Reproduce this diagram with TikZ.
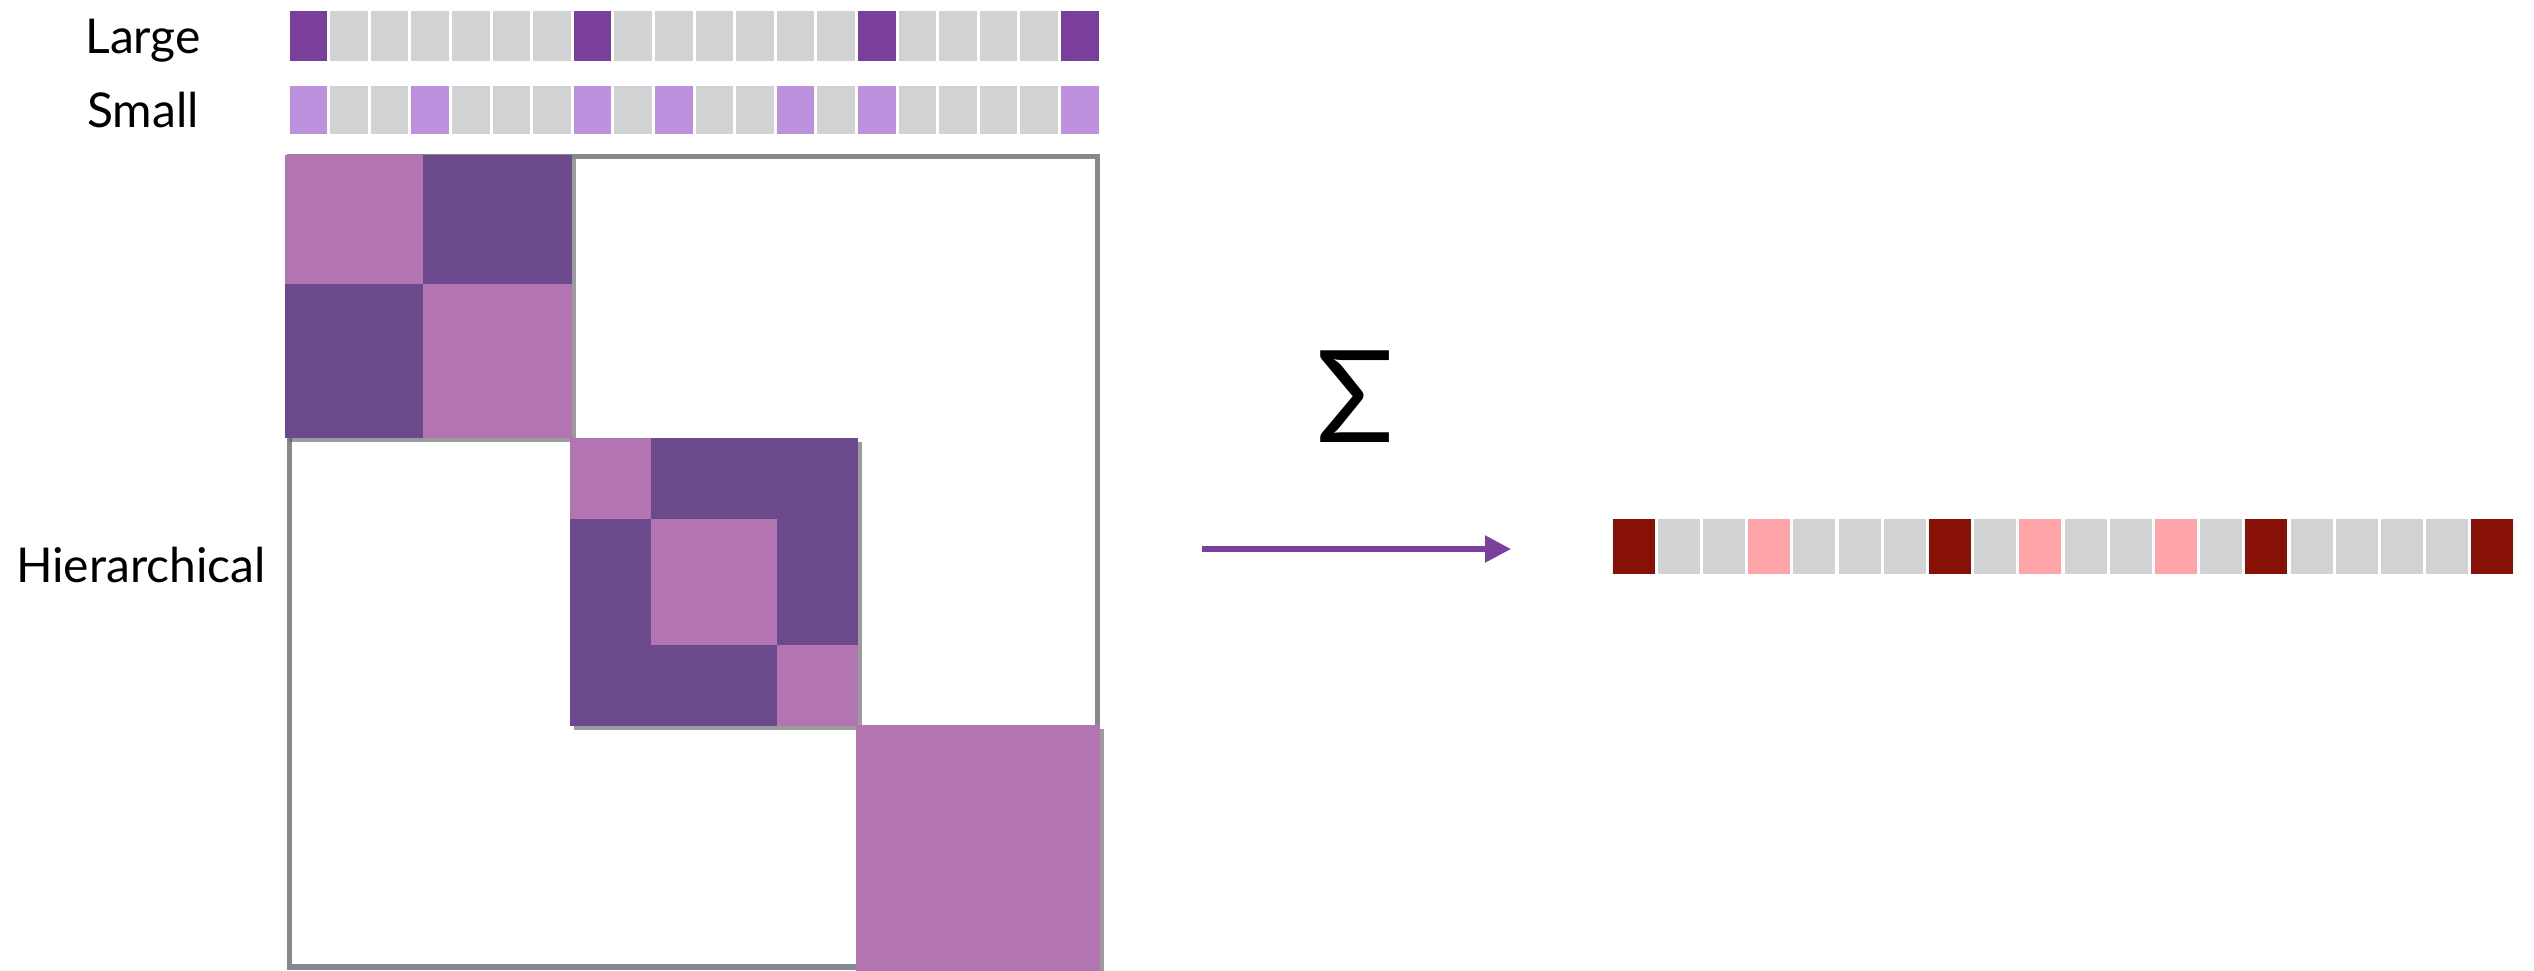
\documentclass[tikz,border=0pt]{standalone}
\usepackage{fontspec}
\setmainfont{Lato}
\usepackage{xcolor}
\usepackage{tikz}
\usetikzlibrary{arrows.meta, positioning, shadows}
\definecolor{lg}{HTML}{7A3E9B}
\definecolor{sm}{HTML}{BD91DD}
\definecolor{cg}{HTML}{D1D2D4}
\definecolor{dr}{HTML}{871106}
\definecolor{pk}{HTML}{FFA4A9}
\definecolor{blklight}{HTML}{B375B2}
\definecolor{blkdark}{HTML}{6C488C}
\definecolor{framegray}{HTML}{85888C}
\definecolor{arrowpurple}{HTML}{7B409E}
\tikzset{
  cel/.style={rectangle, draw=none, inner sep=0pt, minimum width=18.8pt,
              minimum height=25pt},
  celsum/.style={cel, minimum width=21pt, minimum height=27.5pt},
  lbl/.style={font=\fontsize{24}{28}\selectfont, anchor=base},
  frame/.style={draw=framegray, line width=2.75pt},
  blk/.style={fill=blkdark, drop shadow={shadow xshift=2pt,
              shadow yshift=-2pt, opacity=0.6, fill=black!65}},
  arc/.style={-{Triangle[length=13pt, width=13pt]}, line width=2.7pt,
              draw=arrowpurple}
}
\begin{document}
\begin{tikzpicture}[x=0.5pt, y=-0.5pt]
  \useasboundingbox (0,0) rectangle (2534,970);
  % labels
  \node[lbl] (large) at (143,53) {Large};
  \node[lbl] (small) at (143,127) {Small};
  \node[lbl] (hier) at (141,582) {Hierarchical};
  % the two bars
  \foreach \c [count=\i from 0] in {lg,cg,cg,cg,cg,cg,cg,lg,cg,cg,cg,cg,cg,cg,lg,cg,cg,cg,cg,lg}
    \node[cel, fill=\c] (large\i) at ({288+40.6*(\i+0.5)},36) {};
  \foreach \c [count=\i from 0] in {sm,cg,cg,sm,cg,cg,cg,sm,cg,sm,cg,cg,sm,cg,sm,cg,cg,cg,cg,sm}
    \node[cel, fill=\c, minimum height=24pt] (small\i) at ({288+40.6*(\i+0.5)},110) {};
  % matrix
  \draw[frame] (289.5,156.5) rectangle (1097.5,967);
  \fill[blk] (285,155) rectangle (572,438);
  \fill[blklight] (285,155) rectangle (423,284);
  \fill[blklight] (423,284) rectangle (572,438);
  \fill[blk] (570,438) rectangle (858,726);
  \fill[blklight] (570,438) rectangle (651,519);
  \fill[blklight] (651,519) rectangle (777,645);
  \fill[blklight] (777,645) rectangle (858,726);
  \fill[blk, fill=blklight] (856,725) rectangle (1100,972);
  % sum
  \node[font=\fontsize{64}{70}\selectfont] (sigma) at (1355,397) {Σ};
  \coordinate (arrS) at (1202,549);
  \coordinate (arrE) at (1511,549);
  \draw[arc] (arrS) -- (arrE);
  \foreach \c [count=\i from 0] in {dr,cg,cg,pk,cg,cg,cg,dr,cg,pk,cg,cg,pk,cg,dr,cg,cg,cg,cg,dr}
    \node[celsum, fill=\c] (sum\i) at ({1611+45.2*(\i+0.5)},546) {};
\end{tikzpicture}
\end{document}
